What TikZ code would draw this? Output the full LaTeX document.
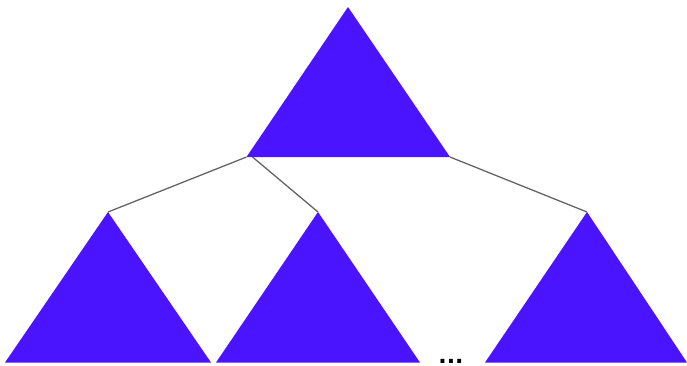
\documentclass[tikz,border=0pt]{standalone}
\usepackage{fontspec}
\setmainfont{DejaVu Sans}
\definecolor{tri}{RGB}{75,20,255}
\definecolor{edge}{RGB}{100,100,100}
\begin{document}
\begin{tikzpicture}[x=1pt,y=-1pt,
  trifill/.style={fill=tri,draw=none},
  link/.style={draw=edge,line width=1.3pt}]
\useasboundingbox (0,0) rectangle (687,365);
% top triangle
\coordinate (tA) at (348,7);
\coordinate (tL) at (246.5,157);
\coordinate (tL2) at (252.5,157);
\coordinate (tR) at (450,157);
\fill[trifill] (tA) -- (tL) -- (tR) -- cycle;
% bottom triangles
\coordinate (aA) at (108,212);
\fill[trifill] (aA) -- (5,362.5) -- (211,362.5) -- cycle;
\coordinate (bA) at (318,212);
\fill[trifill] (bA) -- (216,362.5) -- (420,362.5) -- cycle;
\coordinate (cA) at (587,212);
\fill[trifill] (cA) -- (485,362.5) -- (687,362.5) -- cycle;
% connectors
\draw[link] (tL) -- (aA);
\draw[link] (tL2) -- (bA);
\draw[link] (tR) -- (cA);
% dots
\node[font=\bfseries\fontsize{22}{22}\selectfont,anchor=base,inner sep=0pt] (dots) at (451,363) {...};
\end{tikzpicture}
\end{document}
